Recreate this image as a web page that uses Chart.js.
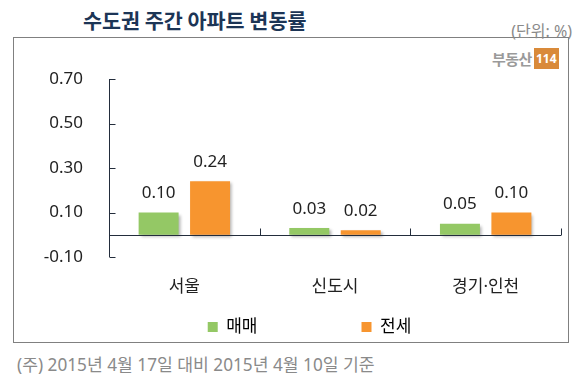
<!DOCTYPE html>
<html>
<head>
<meta charset="utf-8">
<script src="https://cdn.jsdelivr.net/npm/chart.js@4/dist/chart.umd.min.js"></script>
<style>
  html, body { margin: 0; padding: 0; background: #fff; }
  body { width: 583px; height: 382px; position: relative; overflow: hidden; font-family: "Noto Sans", "Noto Sans CJK KR", sans-serif; }
  #frame { position: absolute; left: 13px; top: 37px; width: 554px; height: 304px; border: 1.5px solid #808080; }
  #title { position: absolute; left: 83px; top: 5px; font-size: 20.7px; font-weight: bold; color: #1c3556; white-space: nowrap; font-family: "Noto Sans CJK KR", sans-serif; }
  #unit { position: absolute; right: 11px; top: 18px; font-size: 16px; color: #8a8a8a; white-space: nowrap; }
  #logo { position: absolute; left: 492px; top: 46px; white-space: nowrap; }
  #logo .t { font-size: 15px; font-weight: bold; color: #9a9a9a; vertical-align: middle; letter-spacing: -0.5px; font-family: "Noto Sans CJK KR", sans-serif; }
  #logo .b { display: inline-block; vertical-align: middle; background: #d98a3a; color: #fff; font-size: 12px; font-weight: bold; padding: 3px 2px; line-height: 15px; margin-left: 2px; }
  #note { position: absolute; left: 17px; top: 351px; font-size: 17.2px; color: #8a8a8a; white-space: nowrap; }
  #c { position: absolute; left: 0; top: 0; }
</style>
</head>
<body>
<div id="frame"></div>
<div id="title">수도권 주간 아파트 변동률</div>
<div id="unit">(단위: %)</div>
<div id="logo"><span class="t">부동산</span><span class="b">114</span></div>
<div id="note">(주) 2015년 4월 17일 대비 2015년 4월 10일 기준</div>
<canvas id="c" width="583" height="382"></canvas>
<script>
const categories = ['서울', '신도시', '경기·인천'];
const seriesNames = ['매매', '전세'];
const saleValues = [0.10, 0.03, 0.05];
const jeonseValues = [0.24, 0.02, 0.10];
const yTicks = [-0.10, 0.10, 0.30, 0.50, 0.70];

const FONT = '"Noto Sans", "Noto Sans CJK KR", sans-serif';
const AXIS_COLOR = '#232d3c';

const shadowPlugin = {
  id: 'barShadow',
  beforeDatasetsDraw(chart) {
    const ctx = chart.ctx;
    ctx.save();
    ctx.shadowColor = 'rgba(0,0,0,0.3)';
    ctx.shadowBlur = 3;
    ctx.shadowOffsetX = 2;
    ctx.shadowOffsetY = 2;
  },
  afterDatasetsDraw(chart) {
    chart.ctx.restore();
  }
};

const axesPlugin = {
  id: 'customAxes',
  afterDatasetsDraw(chart) {
    const ctx = chart.ctx;
    const ya = chart.scales.y, xa = chart.scales.x;
    const area = chart.chartArea;
    ctx.save();
    ctx.strokeStyle = AXIS_COLOR;
    ctx.lineWidth = 1;
    const L = Math.round(area.left) + 0.5;
    ctx.beginPath();
    ctx.moveTo(L, ya.getPixelForValue(yTicks[yTicks.length - 1]));
    ctx.lineTo(L, ya.getPixelForValue(yTicks[0]));
    ctx.stroke();
    yTicks.forEach(v => {
      const y = Math.round(ya.getPixelForValue(v)) + 0.5;
      ctx.beginPath();
      ctx.moveTo(L, y);
      ctx.lineTo(L + 6, y);
      ctx.stroke();
    });
    const y0 = Math.round(ya.getPixelForValue(0)) + 0.5;
    ctx.beginPath();
    ctx.moveTo(L, y0);
    ctx.lineTo(area.right, y0);
    ctx.stroke();
    for (let i = 0; i < categories.length; i++) {
      const c = xa.getPixelForValue(i);
      const half = (i < categories.length - 1) ? (xa.getPixelForValue(i + 1) - c) / 2 : (area.right - c);
      const bx = Math.round(c + half) + 0.5;
      ctx.beginPath();
      ctx.moveTo(bx, y0);
      ctx.lineTo(bx, y0 - 7);
      ctx.stroke();
    }
    ctx.fillStyle = '#222';
    ctx.font = '17px ' + FONT;
    ctx.textAlign = 'center';
    ctx.textBaseline = 'middle';
    chart.data.datasets.forEach((ds, di) => {
      const meta = chart.getDatasetMeta(di);
      meta.data.forEach((bar, i) => {
        ctx.fillText(ds.data[i].toFixed(2), bar.x, bar.y - 19);
      });
    });
    ctx.restore();
  }
};

const legendLabels = [seriesNames[0] + '\u3000\u3000\u3000\u3000\u3000', seriesNames[1] + '\u3000\u3000\u3000'];

new Chart(document.getElementById('c'), {
  type: 'bar',
  data: {
    labels: categories,
    datasets: [
      { label: seriesNames[0], data: saleValues, backgroundColor: '#94c865', borderWidth: 0 },
      { label: seriesNames[1], data: jeonseValues, backgroundColor: '#f7952f', borderWidth: 0 }
    ]
  },
  options: {
    responsive: false,
    animation: false,
    devicePixelRatio: 1,
    layout: { padding: { top: 79, right: 22, left: 0, bottom: 36.5 } },
    datasets: { bar: { categoryPercentage: 0.683, barPercentage: 0.777 } },
    plugins: {
      tooltip: { enabled: false },
      legend: {
        position: 'bottom',
        fullSize: false,
        labels: {
          boxWidth: 10,
          boxHeight: 10,
          padding: 19,
          color: '#222',
          font: { size: 17, family: FONT },
          generateLabels(chart) {
            return chart.data.datasets.map((ds, i) => ({
              text: legendLabels[i],
              fillStyle: ds.backgroundColor,
              strokeStyle: ds.backgroundColor,
              lineWidth: 0,
              hidden: false,
              datasetIndex: i
            }));
          }
        }
      }
    },
    scales: {
      x: {
        grid: { display: false, drawTicks: false },
        border: { display: false },
        ticks: { color: '#222', font: { size: 17, family: FONT }, padding: 20 },
        afterFit(s) { s.height = 42.5; }
      },
      y: {
        min: -0.1,
        max: 0.7,
        ticks: {
          stepSize: 0.2,
          color: '#222',
          font: { size: 17, family: FONT },
          padding: 26,
          callback: (v) => Number(v).toFixed(2)
        },
        grid: { display: false, drawTicks: false },
        border: { display: false },
        afterFit(s) { s.width = 109; }
      }
    }
  },
  plugins: [shadowPlugin, axesPlugin]
});
</script>
</body>
</html>
